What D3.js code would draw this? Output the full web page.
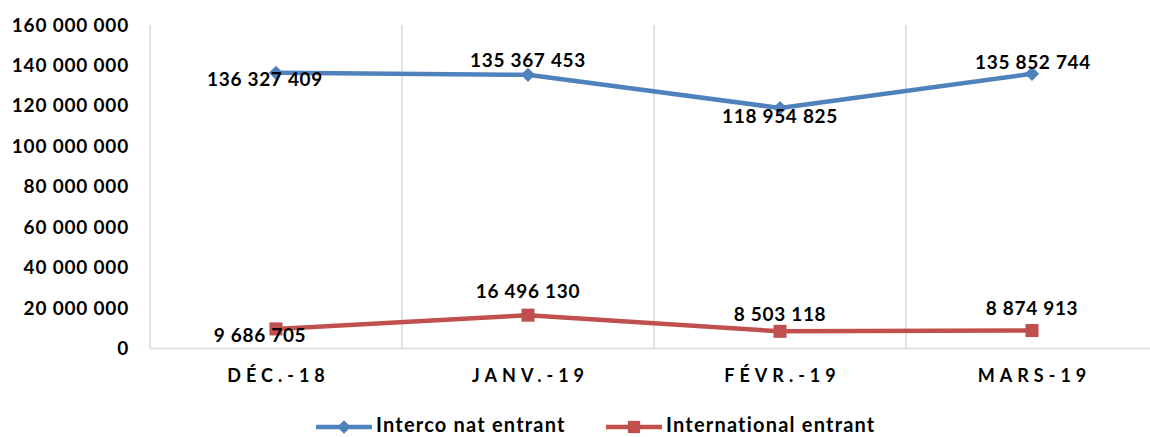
<!DOCTYPE html>
<html><head><meta charset="utf-8">
<script src="https://cdn.jsdelivr.net/npm/d3@7"></script>
<style>body{margin:0;background:#fff}svg{display:block}text{font-family:Lato,"Open Sans",sans-serif;font-weight:700;fill:#000}</style>
</head><body><svg id="c" width="1150" height="437"></svg>
<script>
const categories = ["DÉC.-18","JANV.-19","FÉVR.-19","MARS-19"];
const seriesNames = ["Interco nat entrant","International entrant"];
const interco = [136327409,135367453,118954825,135852744];
const international = [9686705,16496130,8503118,8874913];
const yTicks = [0,20000000,40000000,60000000,80000000,100000000,120000000,140000000,160000000];
const colors = ["#4F81BD","#C0504D"];

const svg = d3.select("#c");
const L=150, R=1158, T=25, B=348.5;
const x = d3.scaleBand().domain(categories).range([L,R]).padding(0);
const y = d3.scaleLinear().domain([0,160000000]).range([B,T]);
const fmt = v => d3.format(",")(v).replace(/,/g," ");

// vertical gridlines at category boundaries
const bounds = categories.map(c=>x(c)).concat([R]);
svg.append("g").selectAll("line").data(bounds).join("line")
  .attr("x1",d=>d).attr("x2",d=>d).attr("y1",T).attr("y2",B)
  .attr("stroke","#d9d9d9").attr("stroke-width",1.5);
svg.append("line").attr("x1",L).attr("x2",R).attr("y1",B).attr("y2",B)
  .attr("stroke","#d9d9d9").attr("stroke-width",1.5);

// y axis labels
const yAxis = svg.append("g").attr("transform",`translate(${L-21},0)`)
  .call(d3.axisLeft(y).tickValues(yTicks).tickFormat(fmt).tickSize(0).tickPadding(0));
yAxis.select(".domain").remove();
yAxis.selectAll("text").style("font-size","19px").style("font-family","Lato,sans-serif").style("font-weight","700")
  .style("letter-spacing","0.8px").attr("fill","#000");

// x axis labels
const xAxis = svg.append("g").attr("transform",`translate(0,${B})`)
  .call(d3.axisBottom(x).tickSize(0).tickPadding(21));
xAxis.select(".domain").remove();
xAxis.selectAll("text").style("font-size","18px").style("font-family","Lato,sans-serif").style("font-weight","700")
  .style("letter-spacing","5px").attr("fill","#000").attr("dx","2.5px");

const cx = c => x(c)+x.bandwidth()/2;
const line = d3.line().x((d,i)=>cx(categories[i])).y(d=>y(d));

// series
const series = [interco, international];
series.forEach((s,k)=>{
  svg.append("path").datum(s).attr("d",line).attr("fill","none")
    .attr("stroke",colors[k]).attr("stroke-width",4.5).attr("stroke-linejoin","round");
});
svg.append("g").selectAll("path").data(interco).join("path")
  .attr("d",d3.symbol().type(d3.symbolSquare).size(100))
  .attr("transform",(d,i)=>`translate(${cx(categories[i])},${y(d)}) rotate(45)`)
  .attr("fill",colors[0]);
svg.append("g").selectAll("path").data(international).join("path")
  .attr("d",d3.symbol().type(d3.symbolSquare).size(170))
  .attr("transform",(d,i)=>`translate(${cx(categories[i])},${y(d)})`)
  .attr("fill",colors[1]);

// data labels: offsets per point (dx, dy relative to point)
const offInterco = [[-11,8],[0,-13],[0,10],[1,-10]];
const offIntl = [[-16,8],[0,-22],[0,-15],[0,-20]];
function labels(data, offs){
  svg.append("g").selectAll("text").data(data).join("text")
    .attr("x",(d,i)=>cx(categories[i])+offs[i][0])
    .attr("y",(d,i)=>y(d)+offs[i][1])
    .attr("text-anchor","middle").attr("dominant-baseline","middle")
    .style("font-size","19px").style("letter-spacing","0.7px").text(fmt);
}
labels(interco, offInterco);
labels(international, offIntl);

// legend
const leg = [[316,376],[606,666]];
seriesNames.forEach((n,k)=>{
  const g = svg.append("g");
  g.append("line").attr("x1",leg[k][0]).attr("x2",leg[k][0]+56).attr("y1",427).attr("y2",427)
    .attr("stroke",colors[k]).attr("stroke-width",4.5);
  const mx = leg[k][0]+28;
  if(k===0) g.append("path").attr("d",d3.symbol().type(d3.symbolSquare).size(90))
    .attr("transform",`translate(${mx},427) rotate(45)`).attr("fill",colors[k]);
  else g.append("path").attr("d",d3.symbol().type(d3.symbolSquare).size(150))
    .attr("transform",`translate(${mx},427)`).attr("fill",colors[k]);
  g.append("text").attr("x",leg[k][1]).attr("y",427).attr("dominant-baseline","middle")
    .style("font-size","20px").style("letter-spacing","1.2px").text(n);
});
</script></body></html>
